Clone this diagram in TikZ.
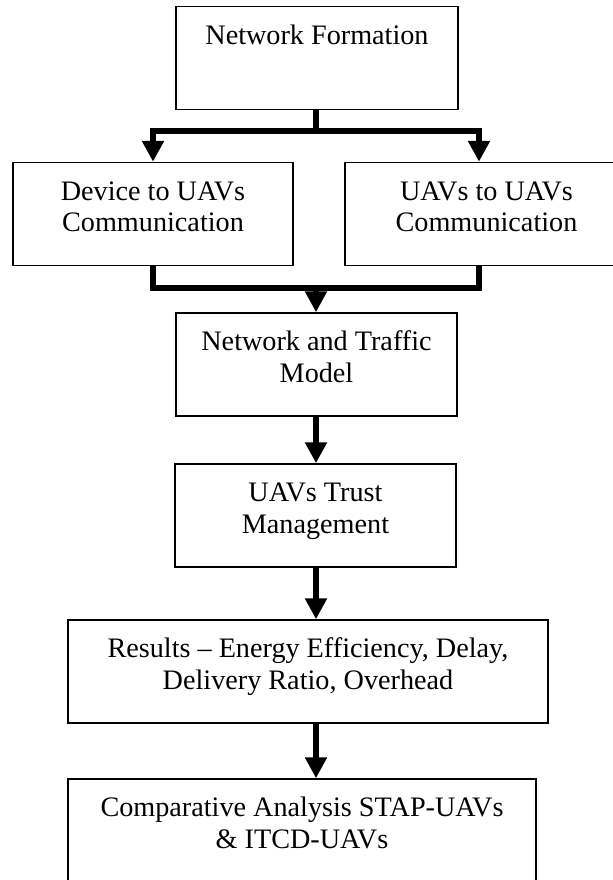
\documentclass[tikz,border=0pt]{standalone}
\usepackage{fontspec}
\setmainfont{Liberation Serif}
\usetikzlibrary{arrows.meta}

% box text sits at the top of a fixed-height box
\newcommand{\stagetext}[2]{\parbox[c][51.5pt][t]{#1}{\centering\rule{0pt}{18.75pt}#2}}

\tikzset{
    stage/.style={draw, line width=0.75pt, inner sep=0pt, font=\fontsize{14.1}{15.85}\selectfont},
    flow/.style={line width=3pt},
    flowarrow/.style={flow, -{Triangle[length=10.5pt, width=10.5pt]}}
}

\begin{document}
\begin{tikzpicture}[x=0.5pt, y=-0.5pt]
    \useasboundingbox (0,0) rectangle (612,880);

    % Stages
    \node[stage] (nf)  at (317, 58)    {\stagetext{141pt}{Network Formation}};
    \node[stage] (d2u) at (153, 214)   {\stagetext{140pt}{Device to UAVs\\Communication}};
    \node[stage] (u2u) at (486.5, 214) {\stagetext{141.5pt}{UAVs to UAVs\\Communication}};
    \node[stage] (ntm) at (316.5, 364.5) {\stagetext{140.5pt}{Network and Traffic\\Model}};
    \node[stage] (utm) at (315.5, 515.5) {\stagetext{140.5pt}{UAVs Trust\\Management}};
    \node[stage] (res) at (308, 671.5) {\stagetext{240pt}{Results \textendash{} Energy Efficiency, Delay,\\Delivery Ratio, Overhead}};
    \node[stage] (cmp) at (302, 830.5) {\stagetext{234pt}{Comparative Analysis STAP-UAVs\\\& ITCD-UAVs}};

    % Split into the two communication stages
    \coordinate (split) at (316, 130.5);
    \coordinate (right) at (479, 130.5);
    \draw[flow] (nf.south -| split) -- (split);
    \draw[flowarrow] (split) -| (d2u.north);
    \draw[flowarrow] (split) -- (right) -- (right |- u2u.north);

    % Join them again
    \coordinate (merge) at (316, 287.5);
    \draw[flow] (d2u.south) |- (merge) -| (right |- u2u.south);
    \draw[flowarrow] (merge) -- (merge |- ntm.north);

    % Straight down to the results
    \draw[flowarrow] (merge |- ntm.south) -- (merge |- utm.north);
    \draw[flowarrow] (merge |- utm.south) -- (merge |- res.north);
    \draw[flowarrow] (merge |- res.south) -- (merge |- cmp.north);
\end{tikzpicture}
\end{document}
